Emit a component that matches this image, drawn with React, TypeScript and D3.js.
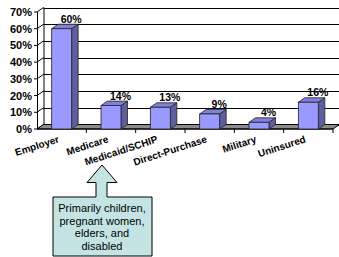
import React, { useEffect, useRef } from 'react';
import * as d3 from 'd3';

// Health coverage by source
const categories = ['Employer', 'Medicare', 'Medicaid/SCHIP', 'Direct-Purchase', 'Military', 'Uninsured'];
const shares = [60, 14, 13, 9, 4, 16];
const yTicks = [0, 10, 20, 30, 40, 50, 60, 70];
const calloutLines = ['Primarily children,', 'pregnant women,', 'elders, and', 'disabled'];

const App = () => {
  const svgRef = useRef(null);

  useEffect(() => {
    if (!svgRef.current) return;
    const svg = d3.select(svgRef.current);
    svg.selectAll('*').remove();

    const width = 339;
    const height = 257;
    const left = 37;
    const right = 333;
    const dx = 6.5; // 3d depth
    const dy = -4.5;
    const font = 'Arial, "Liberation Sans", sans-serif';

    const x = d3.scaleBand().domain(categories).range([left, right]).padding(0);
    const y = d3.scaleLinear().domain([0, 70]).range([129, 12]);
    const barW = x.bandwidth() * 0.405;

    svg.attr('width', width).attr('height', height);
    svg.append('rect').attr('width', width).attr('height', height).attr('fill', '#fff');

    // gridlines on back wall + side wall
    const grid = svg.append('g').attr('stroke', '#000').attr('stroke-width', 1);
    yTicks.forEach(t => {
      const yy = Math.round(y(t) + dy) + 0.5;
      grid.append('line')
        .attr('x1', left + dx).attr('x2', right + dx)
        .attr('y1', yy).attr('y2', yy);
      grid.append('line')
        .attr('x1', left).attr('y1', y(t))
        .attr('x2', left + dx).attr('y2', y(t) + dy);
    });
    grid.append('line')
      .attr('x1', left + dx + 0.5).attr('x2', left + dx + 0.5)
      .attr('y1', y(70) + dy).attr('y2', y(0) + dy);

    // floor
    svg.append('path')
      .attr('d', `M${left},${y(0)}L${right},${y(0)}L${right + dx},${y(0) + dy}L${left + dx},${y(0) + dy}Z`)
      .attr('fill', '#8c8c8c')
      .attr('stroke', '#000')
      .attr('stroke-width', 1);

    // y axis
    svg.append('line')
      .attr('x1', left + 0.5).attr('x2', left + 0.5)
      .attr('y1', y(70)).attr('y2', y(0))
      .attr('stroke', '#000');
    yTicks.forEach(t => {
      svg.append('line')
        .attr('x1', left - 3).attr('x2', left)
        .attr('y1', y(t)).attr('y2', y(t))
        .attr('stroke', '#000');
      svg.append('text')
        .attr('x', 32).attr('y', y(t) + 4)
        .attr('text-anchor', 'end')
        .style('font-family', font)
        .style('font-size', '11px')
        .style('font-weight', 'bold')
        .text(`${t}%`);
    });

    // x axis ticks
    svg.append('line')
      .attr('x1', left).attr('x2', right)
      .attr('y1', y(0)).attr('y2', y(0))
      .attr('stroke', '#000');
    categories.forEach((c, i) => {
      const bx = x(c) + x.bandwidth();
      svg.append('line')
        .attr('x1', bx).attr('x2', bx)
        .attr('y1', y(0)).attr('y2', y(0) + 4)
        .attr('stroke', '#000');
    });

    // bars
    const bars = svg.append('g').attr('stroke', '#222').attr('stroke-width', 0.8);
    categories.forEach((c, i) => {
      const x0 = x(c) + (x.bandwidth() - barW) / 2;
      const x1 = x0 + barW;
      const yt = y(shares[i]);
      const yb = y(0);
      bars.append('path')
        .attr('d', `M${x1},${yb}L${x1},${yt}L${x1 + dx},${yt + dy}L${x1 + dx},${yb + dy}Z`)
        .attr('fill', '#5f5f9e');
      bars.append('path')
        .attr('d', `M${x0},${yt}L${x1},${yt}L${x1 + dx},${yt + dy}L${x0 + dx},${yt + dy}Z`)
        .attr('fill', '#8080d6');
      bars.append('rect')
        .attr('x', x0).attr('y', yt)
        .attr('width', barW).attr('height', yb - yt)
        .attr('fill', '#9999ff');

      svg.append('text')
        .attr('x', x0 + barW / 2 + 9.5)
        .attr('y', yt + dy - 1.5)
        .attr('text-anchor', 'middle')
        .style('font-family', font)
        .style('font-size', '10.5px')
        .style('font-weight', 'bold')
        .text(`${shares[i]}%`);

      const lx = x(c) + x.bandwidth() / 2 - 2;
      svg.append('text')
        .attr('transform', `translate(${lx},142) rotate(-18)`)
        .attr('text-anchor', 'end')
        .style('font-family', font)
        .style('font-size', '10px')
        .style('font-weight', 'bold')
        .text(c);
    });

    // callout with up arrow pointing at Medicaid/SCHIP
    const cx = 102;
    svg.append('path')
      .attr('d', `M53,197L${cx - 6},197L${cx - 6},182.5L${cx - 15},182.5L${cx},165L${cx + 15},182.5L${cx + 5},182.5L${cx + 5},197L152,197L152,256L53,256Z`)
      .attr('fill', '#c4e4e4')
      .attr('stroke', '#000')
      .attr('stroke-width', 1);
    calloutLines.forEach((l, i) => {
      svg.append('text')
        .attr('x', cx).attr('y', 212 + i * 12.6)
        .attr('text-anchor', 'middle')
        .style('font-family', font)
        .style('font-size', '11px')
        .text(l);
    });
  }, []);

  return (
    <div style={{ position: 'absolute', left: 0, top: 0 }}>
      <svg ref={svgRef} style={{ display: 'block' }} />
    </div>
  );
};

export default App;
